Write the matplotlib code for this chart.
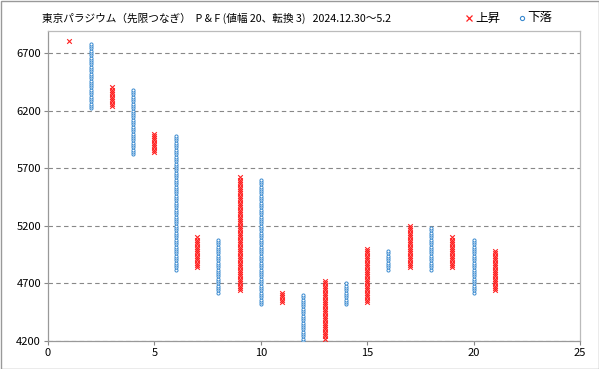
import matplotlib
matplotlib.use("Agg")
import matplotlib.pyplot as plt
from matplotlib.lines import Line2D
import numpy as np

plt.rcParams['font.family'] = ['Noto Sans CJK JP', 'DejaVu Sans']

box = 20
col_types = ["X", "O", "X", "O", "X", "O", "X", "O", "X", "O", "X",
             "O", "X", "O", "X", "O", "X", "O", "X", "O", "X"]
col_low = [6800, 6220, 6240, 5820, 5840, 4820, 4840, 4620, 4640, 4520, 4540,
           4200, 4220, 4520, 4540, 4820, 4840, 4820, 4840, 4620, 4640]
col_high = [6800, 6780, 6400, 6380, 6000, 5980, 5100, 5080, 5620, 5600, 4620,
            4600, 4720, 4700, 5000, 4980, 5200, 5180, 5100, 5080, 4980]
xticks = [0, 5, 10, 15, 20, 25]
yticks = [4200, 4700, 5200, 5700, 6200, 6700]

fig = plt.figure(figsize=(5.99, 3.69), dpi=100)
ax = fig.add_axes([48/599, 1-341/369, (580-48)/599, (341-31)/369])

xs_x, ys_x, xs_o, ys_o = [], [], [], []
for i, (t, lo, hi) in enumerate(zip(col_types, col_low, col_high)):
    vals = np.arange(lo, hi + 1, box)
    if t == "X":
        xs_x += [i + 1] * len(vals); ys_x += list(vals)
    else:
        xs_o += [i + 1] * len(vals); ys_o += list(vals)

ax.scatter(xs_x, ys_x, marker='x', s=11, c='#FF2020', linewidths=0.8, zorder=3)
ax.scatter(xs_o, ys_o, marker='o', s=5, facecolors='white', edgecolors='#3A8AD0', linewidths=0.7, zorder=3)

ax.set_xlim(0, 25)
ax.set_ylim(4200, 6890)
ax.set_xticks(xticks)
ax.set_yticks(yticks)
ax.tick_params(axis='both', labelsize=8, length=3, color='#888888', labelcolor='black', pad=2)
ax.grid(axis='y', linestyle=(0, (4, 3)), color='#888888', linewidth=0.8)
ax.set_axisbelow(True)
for s in ax.spines.values():
    s.set_color('#999999')
    s.set_linewidth(0.9)
ax.spines['top'].set_color('#BBBBBB')
ax.spines['right'].set_color('#BBBBBB')

ty = 1 - 18/369
fig.text(42/599, ty, "東京パラジウム（先限つなぎ）  P & F (値幅 20、転換 3)   2024.12.30～5.2",
         fontsize=7.7, va='center', ha='left')
fig.add_artist(Line2D([469/599], [ty], marker='x', color='#FF2020', markersize=4,
                      markeredgewidth=0.9, transform=fig.transFigure))
fig.text(475/599, ty, "上昇", fontsize=9, va='center', ha='left')
fig.add_artist(Line2D([522/599], [ty], marker='o', color='#3A8AD0', markerfacecolor='white',
                      markersize=3, markeredgewidth=0.8, transform=fig.transFigure))
fig.text(527/599, ty, "下落", fontsize=9, va='center', ha='left')

border = plt.Rectangle((0.5/599, 0.5/369), 598/599, 368/369, transform=fig.transFigure,
                       fill=False, edgecolor='#999999', linewidth=1)
fig.patches.append(border)

fig.savefig("out.png", dpi=100)
